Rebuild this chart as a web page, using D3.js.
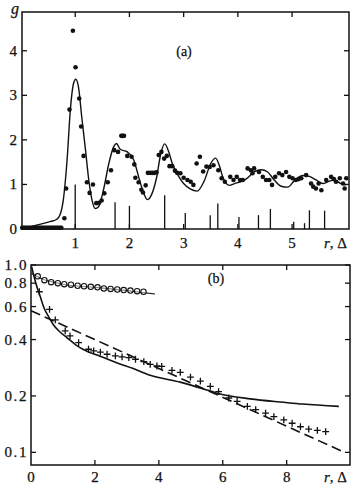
<!DOCTYPE html>
<html><head><meta charset="utf-8">
<script src="https://cdn.jsdelivr.net/npm/d3@7"></script>
<style>html,body{margin:0;padding:0;background:#fff;}svg{display:block;font-family:"Liberation Serif","Times New Roman",serif;}</style>
</head><body>
<script>
// ---------- Panel (a) data ----------
const aXTicks = [1, 2, 3, 4, 5];
const aYTicks = [0, 1, 2, 3, 4];
const aZeroR = [0.02,0.045,0.07,0.095,0.12,0.145,0.17,0.195,0.22,0.245,0.27,0.295,0.32,0.345,0.37,0.395,0.42,0.445,0.47,0.495,0.52,0.545,0.57,0.595,0.62,0.645,0.67,0.695,0.72,0.745];
const aDotR = [0.80,0.833,0.895,0.957,1.006,1.074,1.11,1.154,1.216,1.265,1.327,1.389,1.44,1.487,1.537,1.60,1.66,1.72,1.79,1.85,1.875,1.90,1.96,2.04,2.09,2.11,2.17,2.22,2.25,2.30,2.34,2.38,2.42,2.46,2.50,2.54,2.59,2.64,2.69,2.74,2.79,2.84,2.88,2.94,3.0,3.07,3.13,3.18,3.24,3.30,3.36,3.42,3.48,3.55,3.64,3.70,3.76,3.86,3.92,3.98,4.04,4.09,4.18,4.24,4.27,4.30,4.39,4.46,4.52,4.58,4.63,4.69,4.76,4.82,4.89,4.95,5.01,5.07,5.12,5.17,5.26,5.35,5.39,5.44,5.49,5.54,5.63,5.72,5.77,5.81,5.88,5.94,5.97,6.0];
const aDotG = [0.24,0.91,2.68,4.45,3.63,2.93,2.30,1.64,1.05,0.81,1.0,0.58,0.59,0.64,0.80,1.05,1.32,1.77,1.73,2.09,2.09,2.09,1.64,1.62,1.45,1.15,1.05,0.88,0.82,0.98,1.26,1.26,1.26,1.26,1.27,1.66,1.73,1.58,1.64,1.41,1.41,1.31,1.26,1.25,1.15,1.10,1.06,0.99,1.47,1.62,1.29,1.40,1.39,1.43,1.32,1.14,1.06,1.17,1.10,1.17,1.10,1.10,1.36,1.32,1.25,1.36,1.28,1.17,1.10,1.10,0.99,1.17,1.25,1.21,1.28,1.17,1.14,1.10,1.12,1.14,1.21,1.02,0.95,0.91,1.02,0.87,1.10,1.17,1.12,1.06,1.14,1.02,0.91,1.14];
const aCurveR = [0,0.2,0.4,0.55,0.66,0.72,0.78,0.85,0.91,0.97,1.01,1.06,1.12,1.19,1.25,1.31,1.37,1.43,1.52,1.62,1.71,1.76,1.83,1.96,2.08,2.17,2.25,2.33,2.40,2.5,2.58,2.65,2.72,2.79,2.9,3.0,3.12,3.25,3.38,3.5,3.59,3.66,3.72,3.84,3.94,4.05,4.15,4.3,4.43,4.55,4.67,4.8,4.92,5.04,5.2,5.32,5.44,5.57,5.66,5.78,5.9,6.0];
const aCurveG = [0,0.06,0.12,0.17,0.22,0.32,0.65,1.55,2.67,3.27,3.36,3.19,2.52,1.77,1.10,0.65,0.46,0.50,0.87,1.47,1.85,1.92,1.79,1.73,1.55,1.17,0.85,0.66,0.75,1.15,1.70,1.91,1.75,1.47,1.20,1.02,0.90,0.85,1.08,1.47,1.59,1.42,1.17,0.98,1.02,1.06,1.12,1.28,1.33,1.28,1.10,0.96,0.94,1.08,1.20,1.18,1.10,1.02,1.06,1.10,1.02,0.99];
const aStickR = [1.0,1.735,2.0,2.65,3.03,3.49,3.63,4.02,4.38,4.6,5.03,5.23,5.32,5.6];
const aStickH = [1.0,0.6,0.52,0.76,0.36,0.31,0.57,0.27,0.31,0.45,0.16,0.13,0.42,0.41];

// ---------- Panel (b) data ----------
const bXTicks = [0, 2, 4, 6, 8];
const bYTicks = [1.0, 0.8, 0.6, 0.4, 0.2, 0.1];
const bYTickLabels = ["1.0","0.8","0.6","0.4","0.2","0.1"];
const bCircR = [0.21,0.42,0.63,0.84,1.04,1.25,1.46,1.66,1.87,2.08,2.28,2.49,2.70,2.90,3.11,3.32,3.52];
const bCircV = [0.87,0.83,0.81,0.80,0.79,0.785,0.775,0.77,0.765,0.76,0.75,0.745,0.74,0.735,0.73,0.725,0.72];
const bCircLineR = [0.02,0.3,1.0,2.0,3.0,3.88];
const bCircLineV = [0.90,0.85,0.79,0.76,0.73,0.70];
const bPlusR = [0.26,0.58,0.76,1.07,1.22,1.49,1.8,1.96,2.17,2.38,2.64,2.85,3.06,3.27,3.53,3.73,3.94,4.09,4.41,4.67,4.99,5.3,5.61,5.87,6.19,6.45,6.77,7.03,7.34,7.6,7.91,8.17,8.43,8.69,8.96,9.22];
const bPlusV = [0.72,0.58,0.51,0.445,0.418,0.385,0.355,0.348,0.343,0.334,0.327,0.323,0.32,0.314,0.305,0.295,0.289,0.288,0.274,0.267,0.252,0.24,0.225,0.211,0.195,0.187,0.176,0.169,0.162,0.155,0.149,0.143,0.137,0.133,0.131,0.129];
const bSolidR = [0.02,0.1,0.18,0.3,0.39,0.55,0.7,0.9,1.12,1.4,1.64,2.16,2.7,3.2,3.73,4.67,5.4,5.82,6.86,7.91,8.5,9.63];
const bSolidV = [0.98,0.86,0.77,0.67,0.60,0.53,0.48,0.44,0.41,0.375,0.354,0.326,0.30,0.28,0.258,0.237,0.218,0.207,0.193,0.185,0.181,0.176];
const bDashR = [0, 9.7];
const bDashV = [0.57, 0.102];

const W = 359, H = 489;
const svg = d3.select("body").append("svg").attr("width", W).attr("height", H);
svg.append("rect").attr("width", W).attr("height", H).attr("fill", "#fff");
const ink = "#111";
const fs = 15;

function txt(g, x, y, s, anchor, size) {
  return g.append("text").attr("x", x).attr("y", y).attr("text-anchor", anchor).attr("font-size", size)
    .attr("fill", ink).attr("stroke", ink).attr("stroke-width", 0.25).text(s);
}

function frameAndTicks(g, x, y, xt, yt, L, T, R, B, tl) {
  g.append("rect").attr("x", L).attr("y", T).attr("width", R - L).attr("height", B - T)
    .attr("fill", "none").attr("stroke", ink).attr("stroke-width", 1.5);
  xt.forEach(v => {
    const px = x(v);
    g.append("line").attr("x1", px).attr("x2", px).attr("y1", T).attr("y2", T + tl).attr("stroke", ink).attr("stroke-width", 1.3);
    g.append("line").attr("x1", px).attr("x2", px).attr("y1", B).attr("y2", B - tl).attr("stroke", ink).attr("stroke-width", 1.3);
  });
  yt.forEach(v => {
    const py = y(v);
    g.append("line").attr("x1", L).attr("x2", L + tl).attr("y1", py).attr("y2", py).attr("stroke", ink).attr("stroke-width", 1.3);
    g.append("line").attr("x1", R).attr("x2", R - tl).attr("y1", py).attr("y2", py).attr("stroke", ink).attr("stroke-width", 1.3);
  });
}

// ---------- Panel (a) ----------
{
  const L = 22, T = 12, R = 349, B = 229;
  const x = d3.scaleLinear().domain([0, 6.05]).range([21, 349]);
  const y = d3.scaleLinear().domain([0, 4.87]).range([B, T]);
  const g = svg.append("g");
  frameAndTicks(g, x, y, aXTicks, aYTicks.slice(1), L, T, R, B, 5);
  aStickR.forEach((r, i) => {
    g.append("line").attr("x1", x(r)).attr("x2", x(r)).attr("y1", y(0)).attr("y2", y(aStickH[i]))
      .attr("stroke", ink).attr("stroke-width", 1.3);
  });
  const line = d3.line().x(d => x(d[0])).y(d => y(d[1])).curve(d3.curveMonotoneX);
  g.append("path").datum(aCurveR.map((r, i) => [r, aCurveG[i]])).attr("d", line)
    .attr("fill", "none").attr("stroke", ink).attr("stroke-width", 1.4);
  g.selectAll(".z").data(aZeroR).enter().append("circle").attr("cx", d => x(d)).attr("cy", y(0) - 1.2)
    .attr("r", 2.2).attr("fill", ink);
  g.selectAll(".d").data(aDotR).enter().append("circle").attr("cx", d => x(d)).attr("cy", (d, i) => y(aDotG[i]))
    .attr("r", 2.3).attr("fill", ink);
  aXTicks.forEach(v => txt(g, x(v), 248, v, "middle", fs));
  aYTicks.forEach(v => txt(g, 17, y(v) + 5, v, "end", fs));
  txt(g, 11, 14, "g", "start", 16).attr("font-style", "italic");
  txt(g, 184, 56, "(a)", "middle", 14);
  const t = txt(g, 347, 248, "", "end", fs);
  t.append("tspan").attr("font-style", "italic").text("r");
  t.append("tspan").text(", Δ");
}

// ---------- Panel (b) ----------
{
  const L = 31, T = 265, R = 350, B = 465;
  const x = d3.scaleLinear().domain([0, 10]).range([31, 350.6]);
  const y = d3.scaleLog().domain([0.0856, 1.0]).range([B, T]);
  const g = svg.append("g");
  frameAndTicks(g, x, y, bXTicks.slice(1), bYTicks, L, T, R, B, 5);
  const line = d3.line().x(d => x(d[0])).y(d => y(d[1])).curve(d3.curveMonotoneX);
  g.append("path").datum(bSolidR.map((r, i) => [r, bSolidV[i]])).attr("d", line)
    .attr("fill", "none").attr("stroke", ink).attr("stroke-width", 1.6);
  g.append("path").datum(bDashR.map((r, i) => [r, bDashV[i]])).attr("d", d3.line().x(d => x(d[0])).y(d => y(d[1])))
    .attr("fill", "none").attr("stroke", ink).attr("stroke-width", 1.6).attr("stroke-dasharray", "10,5");
  g.append("path").datum(bCircLineR.map((r, i) => [r, bCircLineV[i]])).attr("d", line)
    .attr("fill", "none").attr("stroke", ink).attr("stroke-width", 1.1);
  g.selectAll(".c").data(bCircR).enter().append("circle").attr("cx", d => x(d)).attr("cy", (d, i) => y(bCircV[i]))
    .attr("r", 2.7).attr("fill", "#fff").attr("fill-opacity", 0.5).attr("stroke", ink).attr("stroke-width", 1.1);
  const ps = 3.4;
  bPlusR.forEach((r, i) => {
    const cx = x(r), cy = y(bPlusV[i]);
    g.append("path").attr("d", `M${cx - ps},${cy}H${cx + ps}M${cx},${cy - ps}V${cy + ps}`)
      .attr("stroke", ink).attr("stroke-width", 1.3).attr("fill", "none");
  });
  bXTicks.forEach(v => txt(g, x(v), 482, v, "middle", fs));
  bYTicks.forEach((v, i) => txt(g, 28, y(v) + 5, bYTickLabels[i], "end", fs).attr("letter-spacing", 1.6));
  txt(g, 216, 283, "(b)", "middle", 14);
  const t = txt(g, 347, 482, "", "end", fs);
  t.append("tspan").attr("font-style", "italic").text("r");
  t.append("tspan").text(", Δ");
}
</script>
</body></html>
